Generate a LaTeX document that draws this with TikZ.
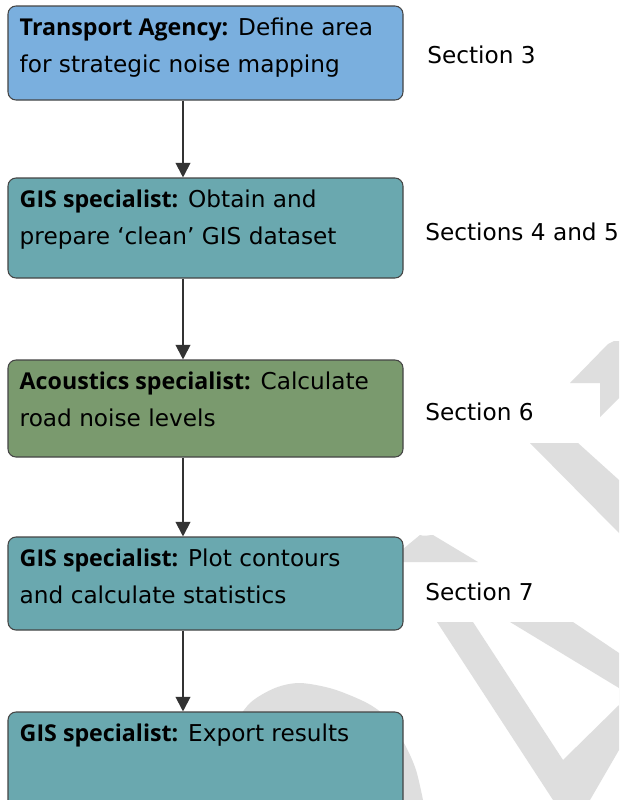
\documentclass[tikz,border=0pt]{standalone}
\usepackage{fontspec}
\setmainfont{DejaVu Sans}
\newfontfamily\hdfont{Open Sans}
\usetikzlibrary{arrows.meta,calc}
\definecolor{bluebox}{HTML}{7AAFDE}
\definecolor{tealbox}{HTML}{6AA8AF}
\definecolor{greenbox}{HTML}{7A9A6E}
\definecolor{boxline}{HTML}{454545}
\definecolor{arrowcol}{HTML}{333333}
\definecolor{wmark}{HTML}{DEDEDE}
\newcommand{\hd}[1]{{\hdfont\bfseries #1}}
\begin{document}
\begin{tikzpicture}[x=0.75pt,y=-0.75pt,
  box/.style={draw=boxline, line width=0.8pt, rounded corners=6pt, inner sep=0pt,
    minimum width=296.25pt},
  txt/.style={anchor=base west, inner sep=0pt, font=\fontsize{17.4}{20}\selectfont, text=black},
  sect/.style={anchor=base west, inner sep=0pt, font=\fontsize{17.4}{20}\selectfont, text=black},
  arr/.style={draw=arrowcol, line width=1.5pt, -{Triangle[width=11pt,length=11pt]}, arrowcol},
  wm/.style={fill=wmark, draw=none}]
\useasboundingbox (0,0) rectangle (619,800);
\clip (0,0) rectangle (619,800);
\fill[white] (0,0) rectangle (619,800);
% watermark
\fill[wm] (570,383) -- (608,344) -- (614,341) -- (619,341) -- (619,398) -- (600,417) -- (600,383) -- cycle;
\fill[wm] (530,443) -- (578,443) -- (619,480) -- (619,533) -- cycle;
\fill[wm] (403,562) -- (403,549) -- (420,535) to[out=-20,in=180] (433,535) -- (478,562) -- cycle;
\fill[wm] (437,622) -- (473,622) -- (563,760) -- (619,705) -- (619,688) -- (510,622) -- (573,622)
  -- (619,653) -- (619,750) -- (590,800) -- (553,800) -- cycle;
\fill[wm] plot[smooth] coordinates {(230,730) (250,703) (275,688) (300,683) (333,689) (367,703) (387,718) (405,745) (416,770) (423,800)} -- (230,800) -- cycle;
% boxes
\node[box, fill=bluebox, minimum height=70.5pt] (b1) at (205.5,53) {};
\node[box, fill=tealbox, minimum height=75pt] (b2) at (205.5,228) {};
\node[box, fill=greenbox, minimum height=72.75pt] (b3) at (205.5,408.5) {};
\node[box, fill=tealbox, minimum height=69.75pt] (b4) at (205.5,583.5) {};
\node[box, fill=tealbox, minimum height=75pt] (b5) at (205.5,762) {};
% texts
\node[txt] (t1a) at ($(b1.north west)+(12,30)$) {\hd{Transport Agency:} Define area};
\node[txt] (t1b) at ($(b1.north west)+(12,67)$) {for strategic noise mapping};
\node[txt] (t2a) at ($(b2.north west)+(12,30)$) {\hd{GIS specialist:} Obtain and};
\node[txt] (t2b) at ($(b2.north west)+(12,67)$) {prepare ‘clean’ GIS dataset};
\node[txt] (t3a) at ($(b3.north west)+(12,30)$) {\hd{Acoustics specialist:} Calculate};
\node[txt] (t3b) at ($(b3.north west)+(12,67)$) {road noise levels};
\node[txt] (t4a) at ($(b4.north west)+(12,30)$) {\hd{GIS specialist:} Plot contours};
\node[txt] (t4b) at ($(b4.north west)+(12,67)$) {and calculate statistics};
\node[txt] (t5a) at ($(b5.north west)+(12,30)$) {\hd{GIS specialist:} Export results};
% section labels
\node[sect] (s1) at (427,63) {Section 3};
\node[sect] (s2) at (425,240) {Sections 4 and 5};
\node[sect] (s3) at (425,420) {Section 6};
\node[sect] (s4) at (425,600) {Section 7};
% arrows
\coordinate (ax) at (183,0);
\draw[arr] (b1.south -| ax) -- (b2.north -| ax);
\draw[arr] (b2.south -| ax) -- (b3.north -| ax);
\draw[arr] (b3.south -| ax) -- (b4.north -| ax);
\draw[arr] (b4.south -| ax) -- (b5.north -| ax);
\end{tikzpicture}
\end{document}
